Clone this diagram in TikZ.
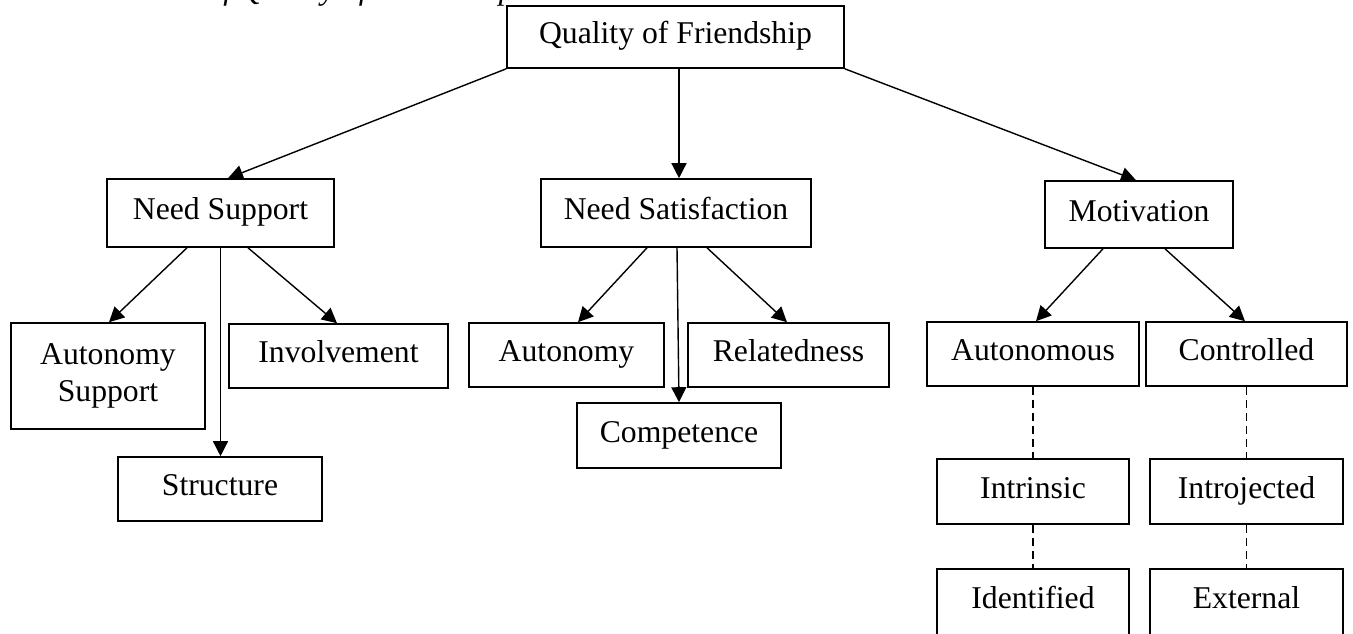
\documentclass[tikz,border=0pt]{standalone}
\usepackage{fontspec}
\setmainfont{Liberation Serif}
\usetikzlibrary{arrows.meta}
\begin{document}
\begin{tikzpicture}[x=0.5pt,y=-0.5pt,
  box/.style={draw, line width=0.8pt, inner sep=0pt, align=center,
    font=\fontsize{15.85}{18.5}\selectfont},
  one/.style={text height=0.68em, text depth=0.02em},
  arr/.style={line width=0.7pt, -{Triangle[length=7.5pt,width=7.5pt]}},
  dashline/.style={line width=0.8pt, dash pattern=on 4pt off 2.5pt},
]
\useasboundingbox (0,0) rectangle (1353,633);
\clip (0,0) rectangle (1353,633);

\node[anchor=base west, inner sep=0pt, font=\fontsize{15.85}{18.5}\selectfont\itshape]
  (cap) at (207,-1) {of Quality of Friendship};

\node[box,one,minimum width=168.5pt,minimum height=31pt] (q) at (675.5,37) {Quality of Friendship};

\node[box,one,minimum width=113.5pt,minimum height=34pt] (nsup) at (220.5,213) {Need Support};
\node[box,one,minimum width=135pt,minimum height=34pt] (nsat) at (676,213) {Need Satisfaction};
\node[box,one,minimum width=94pt,minimum height=33.5pt] (mot) at (1139,214.5) {Motivation};

\node[box,minimum width=97pt,minimum height=53pt] (autsup) at (108,376) {Autonomy\\Support};
\node[box,one,minimum width=109.5pt,minimum height=32pt] (inv) at (338.5,356) {Involvement};
\node[box,one,minimum width=102pt,minimum height=32pt] (struct) at (220,489) {Structure};

\node[box,one,minimum width=97.5pt,minimum height=32pt] (aut) at (566.5,355) {Autonomy};
\node[box,one,minimum width=100.5pt,minimum height=32pt] (rel) at (788.5,355) {Relatedness};
\node[box,one,minimum width=102pt,minimum height=32.5pt] (comp) at (679,435.5) {Competence};

\node[box,one,minimum width=106pt,minimum height=32pt] (auton) at (1033,354) {Autonomous};
\node[box,one,minimum width=100.5pt,minimum height=32pt] (contr) at (1246.5,354) {Controlled};
\node[box,one,minimum width=96pt,minimum height=32.5pt] (intr) at (1033,491.5) {Intrinsic};
\node[box,one,minimum width=96.5pt,minimum height=32.5pt] (intro) at (1246.5,491.5) {Introjected};
\node[box,one,minimum width=96pt,minimum height=33pt] (ident) at (1033,602) {Identified};
\node[box,one,minimum width=96.5pt,minimum height=33pt] (ext) at (1246.5,602) {External};

\draw[arr] (q.south west) -- ([xshift=3.75pt]nsup.north);
\draw[arr] ([xshift=1.75pt]q.south) -- ([xshift=1.5pt]nsat.north);
\draw[arr] (q.south east) -- ([xshift=-1.5pt]mot.north);

\draw[arr] ([xshift=-16.75pt]nsup.south) -- ([xshift=0.5pt]autsup.north);
\draw[arr] (nsup.south) -- (nsup.south |- struct.north);
\draw[arr] ([xshift=13.75pt]nsup.south) -- ([xshift=-0.75pt]inv.north);

\draw[arr] ([xshift=-14.5pt]nsat.south) -- ([xshift=5.75pt]aut.north);
\draw[arr] ([xshift=0.5pt]nsat.south) -- (comp.north);
\draw[arr] ([xshift=15.5pt]nsat.south) -- ([xshift=-0.75pt]rel.north);

\draw[arr] ([xshift=-18pt]mot.south) -- ([xshift=1.5pt]auton.north);
\draw[arr] ([xshift=13pt]mot.south) -- ([xshift=-0.75pt]contr.north);

\draw[dashline] (auton.south) -- (intr.north);
\draw[dashline] (intr.south) -- (ident.north);
\draw[dashline] (contr.south) -- (intro.north);
\draw[dashline] (intro.south) -- (ext.north);
\end{tikzpicture}
\end{document}
